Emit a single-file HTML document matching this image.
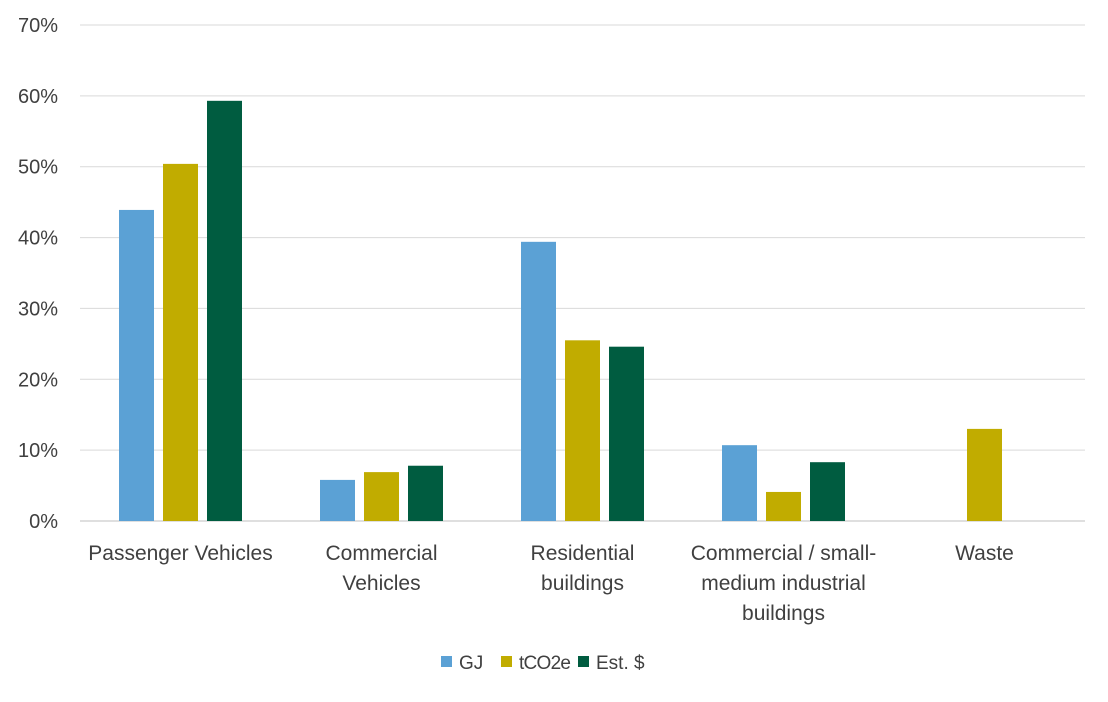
<!DOCTYPE html>
<html><head><meta charset="utf-8"><style>
body{margin:0;background:#fff;}
svg text{font-family:"Liberation Sans",sans-serif;fill:#404040;}
</style></head><body>
<svg width="1108" height="697" id="c"></svg>
<script>
const categories=[["Passenger Vehicles"],["Commercial","Vehicles"],["Residential","buildings"],["Commercial / small-","medium industrial","buildings"],["Waste"]];
const seriesNames=["GJ","tCO2e","Est. $"];
const gj=[43.9,5.8,39.4,10.7,0];
const tco2e=[50.4,6.9,25.5,4.1,13.0];
const est=[59.3,7.8,24.6,8.3,0];
const yTicks=[0,10,20,30,40,50,60,70];
const colors=["#5BA1D5","#C1AC00","#005C40"];
const ns="http://www.w3.org/2000/svg";
const svg=document.getElementById('c');
const x0=80,x1=1085,yb=521,yt=25;
const y=v=>yb-(v/70)*(yb-yt);
const bw=(x1-x0)/categories.length;
function mk(t,a){const e=document.createElementNS(ns,t);for(const k in a)e.setAttribute(k,a[k]);svg.appendChild(e);return e;}
yTicks.forEach(t=>{
  const l=mk('line',{x1:x0,x2:x1,y1:y(t),y2:y(t),stroke:t===0?'#bfbfbf':'#d9d9d9','stroke-width':1});
  
  
  const tx=mk('text',{x:58,y:y(t)+7,'text-anchor':'end','font-size':20});
  tx.textContent=t+'%';
  
  
});
const series=[gj,tco2e,est];
const w=35,gap=9;
categories.forEach((c,i)=>{
  const cx=x0+bw*(i+0.5);
  series.forEach((s,j)=>{
    const bx=cx+(j-1)*(w+gap)-w/2;
    if(s[i]>0){
      const r=mk('rect',{x:bx,y:y(s[i]),width:w,height:yb-y(s[i]),fill:colors[j]});
      
      
    }
  });
  c.forEach((line,k)=>{
    const t=mk('text',{x:cx,y:560+k*30,'text-anchor':'middle','font-size':21});
    t.textContent=line;
    
    
  });
});
const lx=[441,501,578];
seriesNames.forEach((n,j)=>{
  const r=mk('rect',{x:lx[j],y:656,width:11,height:11,fill:colors[j]});
  
  
  const t=mk('text',{x:lx[j]+18,y:669,'font-size':19});
  t.textContent=n;
  if(j===1)t.setAttribute('textLength',52);
  
  
});
</script>
</body></html>
